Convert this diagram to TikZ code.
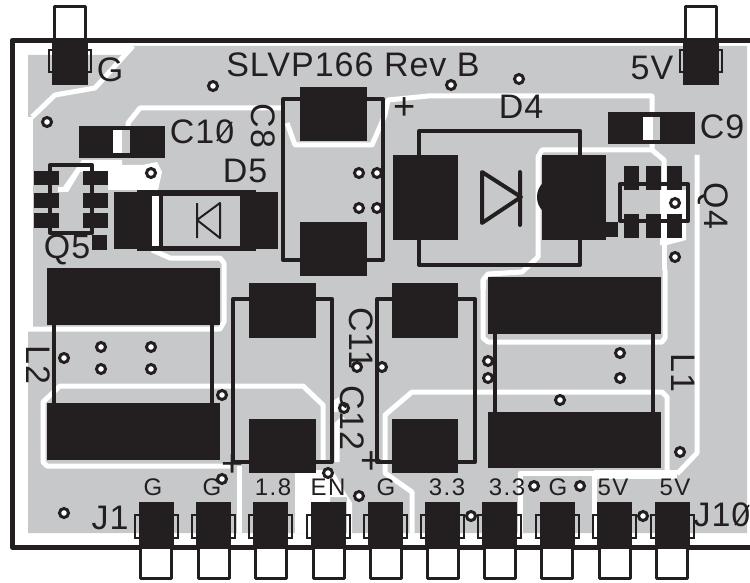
\documentclass[tikz,border=0pt]{standalone}
\usepackage{fontspec}
\setmainfont{Liberation Sans}
\newfontfamily\silkfont[LetterSpace=3]{Liberation Sans}
\newfontfamily\pinfont[LetterSpace=6]{Liberation Sans}
\definecolor{ink}{HTML}{231F20}
\definecolor{copper}{HTML}{C6C8CA}
\tikzset{
  pad/.style={fill=ink},
  silk/.style={draw=ink,line width=4pt,line join=round},
  thinsilk/.style={draw=ink,line width=2pt},
  trace/.style={draw=white,line width=5pt,line join=round},
  via/.style={draw=ink,fill=white,line width=3pt},
  bigtext/.style={text=ink,inner sep=0pt,font=\silkfont\fontsize{34}{34}\selectfont},
  pintext/.style={text=ink,inner sep=0pt,font=\pinfont\fontsize{24}{24}\selectfont},
  plustext/.style={text=ink,inner sep=0pt,font=\fontsize{38}{38}\selectfont},
}
\begin{document}
\begin{tikzpicture}[x=1pt,y=-1pt]
\useasboundingbox (0,0) rectangle (750,583);
% copper
\fill[copper] (28,55) -- (128,55) -- (133,46) -- (747,46) -- (747,533) -- (28,533)
  -- (28,330) -- (33,329) -- (33,117) -- (28,117) -- cycle;
% traces
\draw[trace] (32,117) -- (55,95) -- (95,88) -- (133,46);
\draw[trace] (128,128) -- (128,123) -- (140,108) -- (283,108);
\draw[trace] (152,250) -- (170,258) -- (220,258) -- (224,263) -- (224,322) -- (220,329) -- (28,329);
\draw[trace] (287,123) -- (295,145) -- (372,145) -- (385,115) -- (388,100) -- (428,96) -- (652,96) -- (652,150);
\draw[trace] (230,466) -- (47,466) -- (43,462) -- (43,402) -- (60,386) -- (303,386) -- (323,405) -- (323,462);
\draw[trace] (239,466) -- (239,533);
\draw[trace] (337,462) -- (337,424) -- (344,418);
\draw[trace] (342,398) -- (336,402) -- (335,412);
\draw[trace] (483,290) -- (483,280) -- (488,274) -- (522,272) -- (538,257) -- (538,157) -- (542,150) -- (652,150) -- (664,160) -- (664,190);
\draw[trace] (664,240) -- (664,270);
\draw[trace] (483,280) -- (483,338) -- (488,342) -- (662,342) -- (665,338) -- (665,270);
\draw[trace] (412,533) -- (412,492) -- (385,473) -- (385,415) -- (412,392) -- (662,392) -- (667,397) -- (667,474);
\draw[trace] (697,155) -- (697,453) -- (677,474);
\draw[trace] (520,533) -- (520,473) -- (594,473) -- (594,533);
\draw[trace,line width=9pt] (594,474) -- (677,474);
\fill[white] (295,470) -- (333,470) -- (345,492) -- (352,503) -- (352,533) -- (347,533)
  -- (347,497) -- (330,497) -- (330,533) -- (295,533) -- cycle;
\fill[white] (660,190) -- (686,190) -- (686,240) -- (667,245) -- (660,245) -- cycle;
\fill[white] (82,160) -- (122,160) -- (122,165) -- (143,165) -- (157,162) -- (162,172)
  -- (158,190) -- (108,190) -- (108,172) -- (80,172) -- (68,192) -- (58,192) -- (58,187)
  -- (63,187) -- cycle;
% top connectors
\foreach \xc in {70,701} {
  \draw[silk,line width=3pt] (\xc-15.5,38) -- (\xc-15.5,7) -- (\xc+15.5,7) -- (\xc+15.5,38);
  \draw[thinsilk] (\xc-21,50) rectangle (\xc+21,72);
  \fill[pad] (\xc-18,40) rectangle (\xc+18,85);
}
% bottom connectors
\foreach \xc in {156,213.5,270.5,328.5,385.5,442.5,499.5,557,614.5,672} {
  \draw[thinsilk] (\xc-21.5,515) rectangle (\xc+21.5,538);
}
% outline of the board
\draw[draw=ink,line width=5pt,line join=round] (750,40.5) -- (12,40.5) -- (12,547) -- (750,547);
\foreach \xc in {156,213.5,270.5,328.5,385.5,442.5,499.5,557,614.5,672} {
  \fill[white] (\xc-15,549) rectangle (\xc+15,578);
  \draw[silk,line width=3pt] (\xc-15.5,549) -- (\xc-15.5,578) -- (\xc+15.5,578) -- (\xc+15.5,549);
  \fill[pad] (\xc-17.5,502) rectangle (\xc+17.5,549);
}
% C10, C9
\fill[pad] (79,126) rectangle (165,158);
\fill[copper] (113,130) rectangle (130,153);
\fill[white] (113,130) rectangle (122,153);
\fill[pad] (608,112) rectangle (695,144);
\fill[copper] (643,117) rectangle (660,140);
\fill[white] (643,117) rectangle (653,140);
% Q5
\draw[silk] (50,165) rectangle (92,233);
\foreach \yc in {171,193,213} {
  \fill[pad] (34,\yc) rectangle (59,\yc+14.5);
  \fill[pad] (83,\yc) rectangle (108,\yc+14.5);
}
\fill[pad] (92,235) rectangle (107,250);
% D5
\fill[pad] (114,192) rectangle (278,249);
\fill[pad] (137,190) rectangle (256,251);
\fill[copper] (163,196) rectangle (240,246);
\fill[white] (152,196) rectangle (159,246);
\draw[thinsilk,line join=round] (220,203) -- (197,220) -- (220,238) -- cycle (197,203) -- (197,238);
% C8 and the capacitors below it
\draw[silk] (283,99) rectangle (383,260);
\fill[pad] (300,87) rectangle (367,141);
\fill[pad] (300,222) rectangle (367,276);
\draw[silk] (233,299) rectangle (332,462);
\fill[pad] (249,283) rectangle (316,338);
\fill[pad] (249,419) rectangle (316,473);
\draw[silk] (377,299) rectangle (475,462);
\fill[pad] (392,283) rectangle (458,338);
\fill[pad] (392,419) rectangle (458,473);
% L2, L1
\draw[silk] (54,325) -- (54,403) (212,325) -- (212,403);
\fill[pad] (47,268) rectangle (220,325);
\fill[pad] (47,403) rectangle (220,460);
\draw[silk] (495,334) -- (495,412) (653,334) -- (653,412);
\fill[pad] (488,277) rectangle (661,334);
\fill[pad] (488,412) rectangle (661,468);
% D4
\draw[silk] (419,155) -- (419,131) -- (580,131) -- (580,155) (419,240) -- (419,265) -- (580,265) -- (580,240);
\fill[pad] (393,155) rectangle (458,240);
\fill[pad] (542,155) rectangle (606,240);
\fill[pad] (555,197) ellipse (18 and 19);
\fill[pad] (606,222) rectangle (618,237);
\draw[silk,line cap=round] (482,172) -- (521,197) -- (482,223) -- cycle (520,172) -- (520,225);
% Q4
\draw[silk] (620,184) rectangle (688,221);
\foreach \xc in {624,646,667} {
  \fill[pad] (\xc,166) rectangle (\xc+15,190);
  \fill[pad] (\xc,214) rectangle (\xc+15,238);
}
% vias
\foreach \xc/\yc in {213/86,47/122,151/173,359/173,359/208,377/173,377/208,451/85,519/79,
  675/203,675/257,101/347,151/347,101/369,151/369,64/358,222/395,222/479,328/473,359/496,
  64/513,357/367,344/408,382/367,488/361,488/378,620/353,620/378,560/400,680/452,534/486,
  580/486,471/516,643/516} {
  \draw[via] (\xc,\yc) circle (4.5pt);
}
% labels
\node[bigtext] (title) at (353,65) {SLVP166 Rev B};
\node[bigtext] (g) at (110,70) {G};
\node[bigtext] (fivev) at (652,68) {5V};
\node[bigtext] (cten) at (202,132) {C10};
\node[bigtext] (cnine) at (722,127) {C9};
\node[bigtext] (dfive) at (245,171) {D5};
\node[bigtext] (dfour) at (521,107) {D4};
\node[bigtext] (qfive) at (67,250) {Q5};
\node[bigtext,rotate=-90] (ceight) at (263,126) {C8};
\node[bigtext,rotate=-90] (celeven) at (361,338) {C11};
\node[bigtext,rotate=-90] (ctwelve) at (352,418) {C12};
\node[bigtext,rotate=-90] (ltwo) at (38,365) {L2};
\node[bigtext,rotate=-90] (lone) at (683,373) {L1};
\node[bigtext,rotate=-90] (qfour) at (713,206) {Q4};
\node[bigtext] (jone) at (110,518) {J1};
\node[bigtext] (jten) at (722,515) {J10};
\node[plustext] (plusa) at (405,109) {+};
\node[plustext] (plusb) at (233,466) {+};
\node[plustext] (plusc) at (372,463) {+};
\foreach \xc/\pin/\lbl in {153/G/pina,212/G/pinb,273/1.8/pinc,328/EN/pind,386/G/pine,
  447/3.3/pinf,507/3.3/ping,558/G/pinh,613/5V/pini,675/5V/pinj} {
  \node[pintext] (\lbl) at (\xc,487) {\pin};
}
% slashes of the zeros
\draw[draw=ink,line width=1.6pt] (217,141) -- (232,122);
\draw[draw=ink,line width=1.6pt] (735,525) -- (749,505);
\end{tikzpicture}
\end{document}
